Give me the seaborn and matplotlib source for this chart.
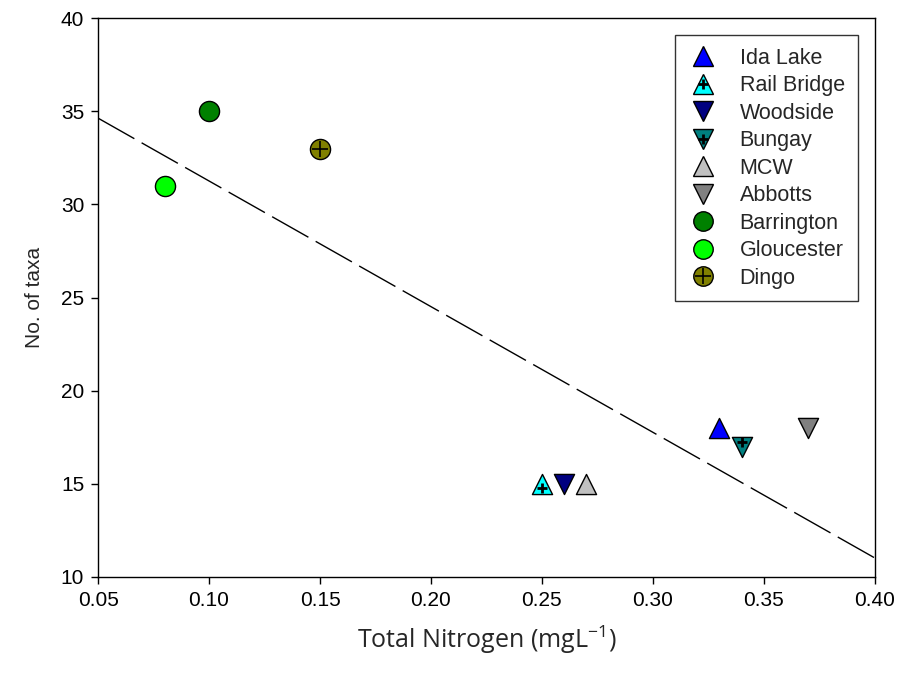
import numpy as np
import pandas as pd
import matplotlib
matplotlib.use("Agg")
import matplotlib.pyplot as plt
import seaborn as sns
from matplotlib.legend_handler import HandlerTuple
from matplotlib.lines import Line2D

sites = ["Ida Lake", "Rail Bridge", "Woodside", "Bungay", "MCW", "Abbotts",
         "Barrington", "Gloucester", "Dingo"]
total_nitrogen = [0.33, 0.25, 0.26, 0.34, 0.27, 0.37, 0.10, 0.08, 0.15]
n_taxa = [18, 15, 15, 17, 15, 18, 35, 31, 33]
colors = ["#0000FF", "#00FFFF", "#000080", "#008080", "#C0C0C0", "#808080",
          "#008000", "#00FF00", "#808000"]
markers = ["^", "^", "v", "v", "^", "v", "o", "o", "o"]
has_plus = [False, True, False, True, False, False, False, False, True]
x_ticks = [0.05, 0.10, 0.15, 0.20, 0.25, 0.30, 0.35, 0.40]
y_ticks = [10, 15, 20, 25, 30, 35, 40]

df = pd.DataFrame({"site": sites, "tn": total_nitrogen, "taxa": n_taxa})

sns.set_style("ticks")
plt.rcParams["font.family"] = ["Liberation Sans", "DejaVu Sans"]

fig = plt.figure(figsize=(9, 6.74), dpi=100)
ax = fig.add_axes([0.109, 0.144, 0.863, 0.829])

# regression line across the full axis
slope, intercept = np.polyfit(df["tn"], df["taxa"], 1)
xl = np.array([0.05, 0.40])
ax.plot(xl, slope * xl + intercept, color="black", lw=1.0,
        dashes=(30, 6), zorder=1)

handles = []
for i, row in df.iterrows():
    sns.scatterplot(x=[row["tn"]], y=[row["taxa"]], ax=ax, marker=markers[i],
                    color=colors[i], edgecolor="black", linewidth=1.0, s=210,
                    zorder=3, legend=False)
    h = Line2D([], [], marker=markers[i], color="none", markerfacecolor=colors[i],
               markeredgecolor="black", markersize=14, markeredgewidth=1.0)
    if has_plus[i]:
        ps = 130 if markers[i] == "o" else 50
        pw = 1.2 if markers[i] == "o" else 2.0
        dy = 0 if markers[i] == "o" else (-0.25 if markers[i] == "^" else 0.25)
        ax.scatter([row["tn"]], [row["taxa"] + dy], marker="+", color="black",
                   s=ps, linewidths=pw, zorder=4)
        hp = Line2D([], [], marker="+", color="none", markeredgecolor="black",
                    markersize=np.sqrt(ps), markeredgewidth=pw)
        handles.append((h, hp))
    else:
        handles.append(h)

ax.set_xlim(0.05, 0.40)
ax.set_ylim(10, 40)
ax.set_xticks(x_ticks)
ax.set_xticklabels([f"{v:.2f}" for v in x_ticks])
ax.set_yticks(y_ticks)
ax.tick_params(direction="out", length=5, width=1, labelsize=15, colors="black",
               top=False, right=False, pad=5)
for s in ax.spines.values():
    s.set_visible(True)
    s.set_color("black")
    s.set_linewidth(1.0)

ax.set_ylabel("No. of taxa", fontsize=15, labelpad=12)
ax.set_xlabel(r"Total Nitrogen (mgL$\mathregular{^{-1}}$)", fontsize=18,
              family=["Open Sans", "DejaVu Sans"], labelpad=10)

leg = ax.legend(handles, sites, handler_map={tuple: HandlerTuple(ndivide=1, pad=0)},
                loc="upper right", bbox_to_anchor=(0.978, 0.970), fontsize=15.5,
                frameon=True, fancybox=False, edgecolor="black",
                borderpad=0.6, labelspacing=0.3, handletextpad=1.0,
                handlelength=1.4, borderaxespad=0)
leg.get_frame().set_linewidth(1.0)

fig.savefig("out.png", dpi=100, facecolor="white")
